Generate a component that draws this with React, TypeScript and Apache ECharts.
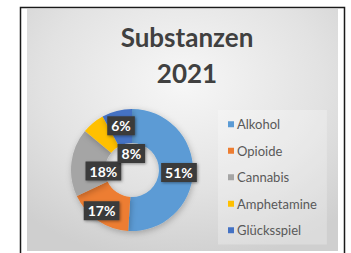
import React, { useEffect, useRef } from "react";
import * as echarts from "echarts";

const categories = ["Alkohol", "Opioide", "Cannabis", "Amphetamine", "Glücksspiel"];
const values = [51, 17, 18, 6, 8];
const colors = ["#5B9BD5", "#ED7D31", "#A5A5A5", "#FFC000", "#4472C4"];
const labelOffsets: [number, number][] = [
  [0, 1],
  [-4, 2],
  [18, 7],
  [19, -8],
  [11, 29],
];
const titleText = "Substanzen\n2021";

export default function App() {
  const ref = useRef<HTMLDivElement>(null);
  useEffect(() => {
    if (!ref.current) return;
    const chart = echarts.init(ref.current, null, { renderer: "svg" });
    const font = "Lato, 'Open Sans', sans-serif";
    chart.setOption({
      animation: false,
      backgroundColor: "#ffffff",
      graphic: [
        {
          type: "rect",
          z: -10,
          silent: true,
          shape: { x: 20.5, y: 7.5, width: 324, height: 250 },
          style: { fill: "#ffffff", stroke: "#1a1a1a", lineWidth: 1.5 },
        },
        {
          type: "rect",
          z: -9,
          silent: true,
          shape: { x: 27, y: 9, width: 311, height: 242 },
          style: {
            fill: new echarts.graphic.RadialGradient(0.5, 0.3, 0.75, [
              { offset: 0, color: "#f7f7f7" },
              { offset: 0.6, color: "#e2e2e2" },
              { offset: 1, color: "#cfcfcf" },
            ]),
          },
        },
      ],
      title: {
        text: titleText,
        left: 182,
        top: 14,
        textAlign: "center",
        textStyle: {
          fontFamily: font,
          fontSize: 26,
          fontWeight: "bold",
          color: "#404040",
          lineHeight: 36,
        },
      },
      legend: {
        orient: "vertical",
        left: 218,
        top: 110,
        width: 110,
        padding: [7, 10, 7, 10],
        backgroundColor: "rgba(255,255,255,0.25)",
        icon: "rect",
        itemWidth: 6,
        itemHeight: 6,
        itemGap: 12,
        data: categories,
        textStyle: {
          fontFamily: font,
          fontSize: 13,
          color: "#595959",
          lineHeight: 14.5,
          padding: [0, 0, 0, -2],
        },
      },
      series: [
        {
          type: "pie",
          center: [132, 170],
          radius: [27, 61],
          startAngle: 90,
          clockwise: true,
          avoidLabelOverlap: false,
          labelLayout: { hideOverlap: false },
          itemStyle: {
            shadowBlur: 6,
            shadowColor: "rgba(0,0,0,0.25)",
            shadowOffsetX: 1,
            shadowOffsetY: 2,
          },
          label: {
            show: true,
            position: "inside",
            formatter: "{c}%",
            fontFamily: font,
            fontSize: 14,
            fontWeight: "bold",
            color: "#ffffff",
            backgroundColor: "#3b3b3b",
            padding: [3, 4, 2, 4],
            shadowBlur: 3,
            shadowColor: "rgba(0,0,0,0.4)",
            shadowOffsetX: 1,
            shadowOffsetY: 1,
          },
          labelLine: { show: false },
          data: categories.map((name, i) => ({
            name,
            value: values[i],
            itemStyle: { color: colors[i] },
            label: { offset: labelOffsets[i] },
          })),
        },
      ],
    });
    return () => chart.dispose();
  }, []);
  return (
    <div
      ref={ref}
      style={{ position: "fixed", left: 0, top: 0, width: 351, height: 253 }}
    />
  );
}
